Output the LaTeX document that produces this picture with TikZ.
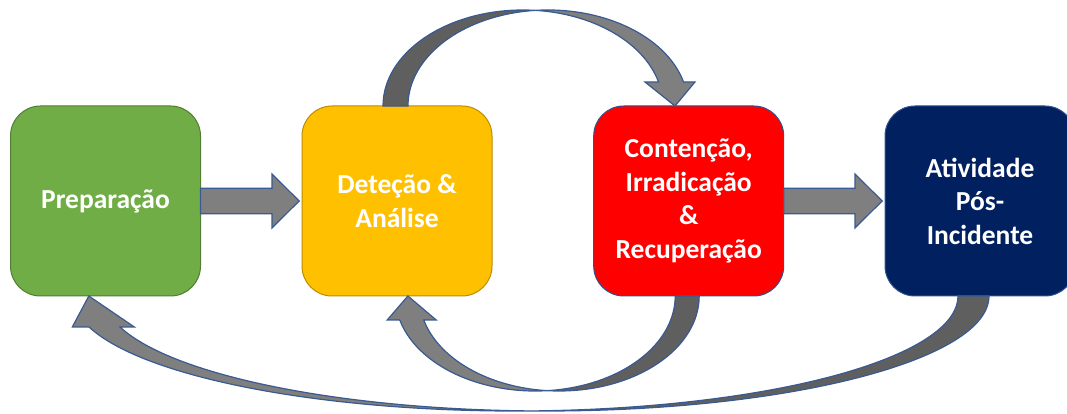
\documentclass[tikz,border=0pt]{standalone}
\usepackage{fontspec}
\setmainfont{Carlito}
\usetikzlibrary{calc}

\definecolor{prepgreen}{HTML}{70AD47}
\definecolor{prepedge}{HTML}{507E32}
\definecolor{detyellow}{HTML}{FFC000}
\definecolor{detedge}{HTML}{BC8C00}
\definecolor{contred}{HTML}{FF0000}
\definecolor{postnavy}{HTML}{002060}
\definecolor{blueedge}{HTML}{2F528F}
\definecolor{bandlight}{HTML}{7F7F7F}
\definecolor{banddark}{HTML}{5F5F5F}
\definecolor{arrowedge}{HTML}{3A5A92}

\begin{document}
\begin{tikzpicture}[x=1pt,y=1pt,
  stage/.style={rectangle, rounded corners=30pt, minimum width=190pt, minimum height=190pt,
    inner sep=0pt, outer sep=0pt, line width=1pt, text=white, align=center,
    font=\bfseries\fontsize{27.5}{33.5}\selectfont},
  flatarrow/.style={fill=bandlight, draw=arrowedge, line width=1.2pt, line join=miter},
  bandline/.style={draw=arrowedge, line width=1.2pt, line join=miter},
  topell/.style={x radius=140pt, y radius=96pt},
  lowell/.style={x radius=140pt, y radius=95pt},
  wideell/.style={x radius=442.7pt, y radius=115pt}]

\clip (0,0) rectangle (1067,414);

% the four phases
\node[stage, fill=prepgreen, draw=prepedge] (prep) at (105.5,213) {Preparação};
\node[stage, fill=detyellow, draw=detedge] (det) at (397,213) {Deteção \&\\Análise};
\node[stage, fill=contred, draw=blueedge] (cont) at (688.7,213) {Contenção,\\Irradicação\\\&\\Recuperação};
\node[stage, fill=postnavy, draw=blueedge] (post) at (980,213) {Atividade\\Pós-\\Incidente};

% straight block arrows
\draw[flatarrow] let \p1=(prep.east), \p2=(det.west) in
  (\x1,\y1+12.8pt) -- (\x2-30pt,\y1+12.8pt) -- (\x2-30pt,\y1+27pt) -- (\x2-2.8pt,\y1)
  -- (\x2-30pt,\y1-27pt) -- (\x2-30pt,\y1-12.8pt) -- (\x1,\y1-12.8pt) -- cycle;
\draw[flatarrow] let \p1=(cont.east), \p2=(post.west) in
  (\x1,\y1+12.8pt) -- (\x2-30pt,\y1+12.8pt) -- (\x2-30pt,\y1+27pt) -- (\x2-2.8pt,\y1)
  -- (\x2-30pt,\y1-27pt) -- (\x2-30pt,\y1-12.8pt) -- (\x1,\y1-12.8pt) -- cycle;

% curved arrow over the top: Deteção -> Contenção
\coordinate (ta) at ($(det.north)+(-14pt,0)$);
\path (ta) arc[topell, start angle=180, end angle=84.88] coordinate (tx);
\fill[banddark] (ta) arc[topell, start angle=180, end angle=84.88]
  arc[topell, start angle=95.12, end angle=180] -- cycle;
\fill[bandlight] (tx) arc[topell, start angle=84.88, end angle=14.4775]
  -- ++(-13.55,0) -- ++(30,-24) -- ++(20,24) -- ++(-11.45,0)
  arc[topell, start angle=14.4775, end angle=95.12] -- cycle;
\draw[bandline] (ta) arc[topell, start angle=180, end angle=14.4775]
  -- ++(-13.55,0) -- ++(30,-24) -- ++(20,24) -- ++(-11.45,0)
  arc[topell, start angle=14.4775, end angle=180] -- cycle;

% curved arrow underneath: Contenção -> Deteção
\coordinate (rb) at ($(cont.south)+(10.5pt,0)$);
\path (rb) arc[lowell, start angle=0, end angle=-94.92] coordinate (rx);
\fill[banddark] (rb) arc[lowell, start angle=0, end angle=-94.92]
  arc[lowell, start angle=-85.08, end angle=0] -- cycle;
\fill[bandlight] (rx) arc[lowell, start angle=-94.92, end angle=-165.37]
  -- ++(12.46,0) -- ++(-28.3,24) -- ++(-20.7,-24) -- ++(12.54,0)
  arc[lowell, start angle=-165.37, end angle=-85.08] -- cycle;
\draw[bandline] (rb) arc[lowell, start angle=0, end angle=-165.37]
  -- ++(12.46,0) -- ++(-28.3,24) -- ++(-20.7,-24) -- ++(12.54,0)
  arc[lowell, start angle=-165.37, end angle=0] -- cycle;

% long curved arrow underneath: Pós-Incidente -> Preparação
\coordinate (nb) at ($(post.south)+(9pt,0)$);
\path (nb) arc[wideell, start angle=0, end angle=-92.007] coordinate (nx);
\fill[banddark] (nb) arc[wideell, start angle=0, end angle=-92.007]
  arc[wideell, start angle=-87.993, end angle=0] -- cycle;
\fill[bandlight] (nx) arc[wideell, start angle=-92.007, end angle=-164.36]
  -- ++(14.31,0) -- ++(-45.5,31) -- ++(-16.5,-31) -- ++(16.69,0)
  arc[wideell, start angle=-164.36, end angle=-87.993] -- cycle;
\draw[bandline] (nb) arc[wideell, start angle=0, end angle=-164.36]
  -- ++(14.31,0) -- ++(-45.5,31) -- ++(-16.5,-31) -- ++(16.69,0)
  arc[wideell, start angle=-164.36, end angle=0] -- cycle;

\end{tikzpicture}
\end{document}
